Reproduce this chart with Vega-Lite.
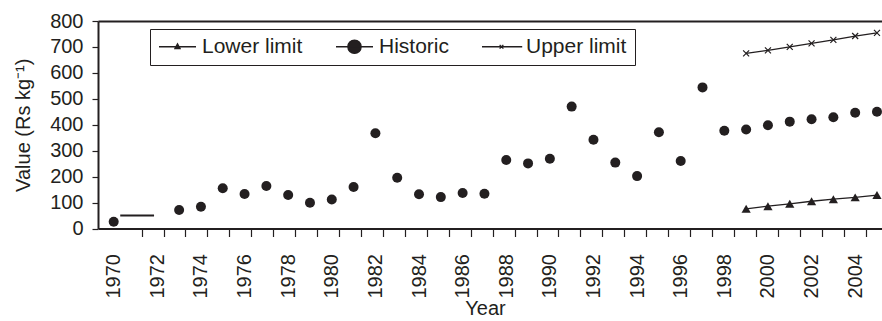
{
  "$schema": "https://vega.github.io/schema/vega-lite/v6.json",
  "autosize": {"type": "none"},
  "width": 784,
  "height": 207.5,
  "padding": {"left": 98, "top": 21, "right": 0, "bottom": 92.5},
  "background": "white",
  "config": {
    "view": {"stroke": null},
    "font": "Liberation Sans",
    "axis": {
      "labelFont": "Liberation Sans",
      "titleFont": "Liberation Sans",
      "labelFontSize": 20,
      "titleFontSize": 20,
      "titleFontWeight": "normal",
      "labelColor": "#231f20",
      "titleColor": "#231f20",
      "domainColor": "#231f20",
      "domainWidth": 2,
      "tickColor": "#231f20",
      "tickWidth": 1.2,
      "grid": false
    }
  },
  "data": {
    "values": [
      {"Year": 1970.3, "Value": 50, "Series": "Segment"},
      {"Year": 1971.85, "Value": 50, "Series": "Segment"},
      {"Year": 1970, "Value": 26, "Series": "Historic"},
      {"Year": 1973, "Value": 71, "Series": "Historic"},
      {"Year": 1974, "Value": 84, "Series": "Historic"},
      {"Year": 1975, "Value": 155, "Series": "Historic"},
      {"Year": 1976, "Value": 133, "Series": "Historic"},
      {"Year": 1977, "Value": 164, "Series": "Historic"},
      {"Year": 1978, "Value": 129, "Series": "Historic"},
      {"Year": 1979, "Value": 99, "Series": "Historic"},
      {"Year": 1980, "Value": 112, "Series": "Historic"},
      {"Year": 1981, "Value": 160, "Series": "Historic"},
      {"Year": 1982, "Value": 367, "Series": "Historic"},
      {"Year": 1983, "Value": 196, "Series": "Historic"},
      {"Year": 1984, "Value": 132, "Series": "Historic"},
      {"Year": 1985, "Value": 121, "Series": "Historic"},
      {"Year": 1986, "Value": 137, "Series": "Historic"},
      {"Year": 1987, "Value": 134, "Series": "Historic"},
      {"Year": 1988, "Value": 264, "Series": "Historic"},
      {"Year": 1989, "Value": 251, "Series": "Historic"},
      {"Year": 1990, "Value": 269, "Series": "Historic"},
      {"Year": 1991, "Value": 470, "Series": "Historic"},
      {"Year": 1992, "Value": 342, "Series": "Historic"},
      {"Year": 1993, "Value": 254, "Series": "Historic"},
      {"Year": 1994, "Value": 202, "Series": "Historic"},
      {"Year": 1995, "Value": 371, "Series": "Historic"},
      {"Year": 1996, "Value": 260, "Series": "Historic"},
      {"Year": 1997, "Value": 544, "Series": "Historic"},
      {"Year": 1998, "Value": 377, "Series": "Historic"},
      {"Year": 1999, "Value": 382, "Series": "Historic"},
      {"Year": 2000, "Value": 398, "Series": "Historic"},
      {"Year": 2001, "Value": 412, "Series": "Historic"},
      {"Year": 2002, "Value": 421, "Series": "Historic"},
      {"Year": 2003, "Value": 429, "Series": "Historic"},
      {"Year": 2004, "Value": 446, "Series": "Historic"},
      {"Year": 2005, "Value": 450, "Series": "Historic"},
      {"Year": 1999, "Value": 76, "Series": "Lower limit"},
      {"Year": 2000, "Value": 86, "Series": "Lower limit"},
      {"Year": 2001, "Value": 95, "Series": "Lower limit"},
      {"Year": 2002, "Value": 105, "Series": "Lower limit"},
      {"Year": 2003, "Value": 113, "Series": "Lower limit"},
      {"Year": 2004, "Value": 120, "Series": "Lower limit"},
      {"Year": 2005, "Value": 129, "Series": "Lower limit"},
      {"Year": 1999, "Value": 675, "Series": "Upper limit"},
      {"Year": 2000, "Value": 687, "Series": "Upper limit"},
      {"Year": 2001, "Value": 700, "Series": "Upper limit"},
      {"Year": 2002, "Value": 714, "Series": "Upper limit"},
      {"Year": 2003, "Value": 727, "Series": "Upper limit"},
      {"Year": 2004, "Value": 742, "Series": "Upper limit"},
      {"Year": 2005, "Value": 754, "Series": "Upper limit"}
    ]
  },
  "encoding": {
    "y": {
      "field": "Value",
      "type": "quantitative",
      "scale": {"domain": [0, 800], "nice": false, "zero": true},
      "axis": {
        "values": [0, 100, 200, 300, 400, 500, 600, 700, 800],
        "title": "Value (Rs kg⁻¹)",
        "tickSize": 6,
        "labelPadding": 9,
        "titlePadding": 16,
        "domain": true,
        "ticks": true
      }
    }
  },
  "layer": [
    {
      "transform": [{"filter": "datum.Series === 'Segment'"}],
      "mark": {"type": "line", "color": "#231f20", "strokeWidth": 2},
      "encoding": {
        "x": {"field": "Year", "type": "quantitative", "scale": {"domain": [1969.28, 2005.23], "nice": false, "zero": false}, "axis": null}
      }
    },
    {
      "transform": [{"filter": "datum.Series === 'Lower limit'"}],
      "mark": {"type": "line", "color": "#231f20", "strokeWidth": 1.3},
      "encoding": {
        "x": {
          "field": "Year", "type": "quantitative",
          "scale": {"domain": [1969.28, 2005.23], "nice": false, "zero": false},
          "axis": {
            "orient": "bottom",
            "values": [1971.28, 1972.29, 1973.29, 1974.30, 1975.30, 1976.31, 1977.32, 1978.32, 1979.33, 1980.33, 1981.34, 1982.35, 1983.35, 1984.36, 1985.36, 1986.37, 1987.38, 1988.38, 1989.39, 1990.39, 1991.40, 1992.41, 1993.41, 1994.42, 1995.42, 1996.43, 1997.44, 1998.44, 1999.45, 2000.45, 2001.46, 2002.47, 2003.47, 2004.48],
            "labels": false,
            "domain": false,
            "ticks": true,
            "tickSize": 8,
            "title": null
          }
        }
      }
    },
    {
      "transform": [{"filter": "datum.Series === 'Lower limit'"}],
      "mark": {"type": "point", "shape": "triangle-up", "filled": true, "color": "#231f20", "size": 85, "opacity": 1},
      "encoding": {
        "x": {"field": "Year", "type": "quantitative", "scale": {"domain": [1969.28, 2005.23], "nice": false, "zero": false}, "axis": null}
      }
    },
    {
      "transform": [{"filter": "datum.Series === 'Upper limit'"}],
      "mark": {"type": "line", "color": "#231f20", "strokeWidth": 1.3},
      "encoding": {
        "x": {
          "field": "Year", "type": "quantitative",
          "scale": {"domain": [1969.28, 2005.23], "nice": false, "zero": false},
          "axis": {"orient": "top", "labels": false, "ticks": false, "domain": true, "title": null}
        }
      }
    },
    {
      "transform": [{"filter": "datum.Series === 'Upper limit'"}],
      "mark": {"type": "point", "shape": "M-1,-1L1,1M-1,1L1,-1", "filled": false, "color": "#231f20", "size": 36, "strokeWidth": 1.2, "opacity": 1},
      "encoding": {
        "x": {"field": "Year", "type": "quantitative", "scale": {"domain": [1969.28, 2005.23], "nice": false, "zero": false}, "axis": null}
      }
    },
    {
      "transform": [{"filter": "datum.Series === 'Historic'"}],
      "mark": {"type": "point", "shape": "circle", "filled": true, "color": "#231f20", "size": 100, "opacity": 1},
      "encoding": {
        "x": {
          "field": "Year", "type": "quantitative",
          "scale": {"domain": [1969.28, 2005.23], "nice": false, "zero": false},
          "axis": {
            "orient": "bottom",
            "values": [1970, 1972, 1974, 1976, 1978, 1980, 1982, 1984, 1986, 1988, 1990, 1992, 1994, 1996, 1998, 2000, 2002, 2004],
            "format": "d",
            "labelAngle": -90,
            "labelPadding": 25,
            "ticks": false,
            "tickSize": 0,
            "domain": true,
            "title": "Year",
            "titlePadding": 1,
            "titleX": 387,
            "titleAlign": "center"
          }
        }
      }
    },
    {
      "transform": [{"filter": "datum.Series === 'None'"}],
      "mark": {"type": "point", "filled": true, "fill": "#231f20", "stroke": "#231f20", "strokeWidth": 1.3, "size": 1369, "opacity": 1},
      "encoding": {
        "x": {"field": "Year", "type": "quantitative", "scale": {"domain": [1969.28, 2005.23], "nice": false, "zero": false}, "axis": null},
        "shape": {
          "field": "Series",
          "type": "nominal",
          "scale": {
            "domain": ["Lower limit", "Historic", "Upper limit"],
            "range": [
              "M-1,0L1,0M0,-0.16L0.14,0.1L-0.14,0.1Z",
              "M-1,0L1,0M0.36,0A0.36,0.36 0 1,1 -0.36,0A0.36,0.36 0 1,1 0.36,0Z",
              "M-1.1,0L1.12,0M-0.1,-0.1L0.1,0.1M-0.1,0.1L0.1,-0.1"
            ]
          },
          "legend": {
            "orient": "none",
            "legendX": 52,
            "legendY": 8,
            "direction": "horizontal",
            "title": null,
            "labelFont": "Liberation Sans",
            "labelFontSize": 21,
            "labelColor": "#231f20",
            "symbolSize": 1369,
            "symbolStrokeWidth": 1.3,
            "symbolOpacity": 1,
            "strokeColor": "#231f20",
            "padding": 8,
            "columnPadding": 32,
            "labelOffset": 5,
            "clipHeight": 19,
            "symbolOffset": 0
          }
        }
      }
    }
  ],
  "resolve": {"scale": {"x": "shared"}, "axis": {"x": "independent"}}
}
